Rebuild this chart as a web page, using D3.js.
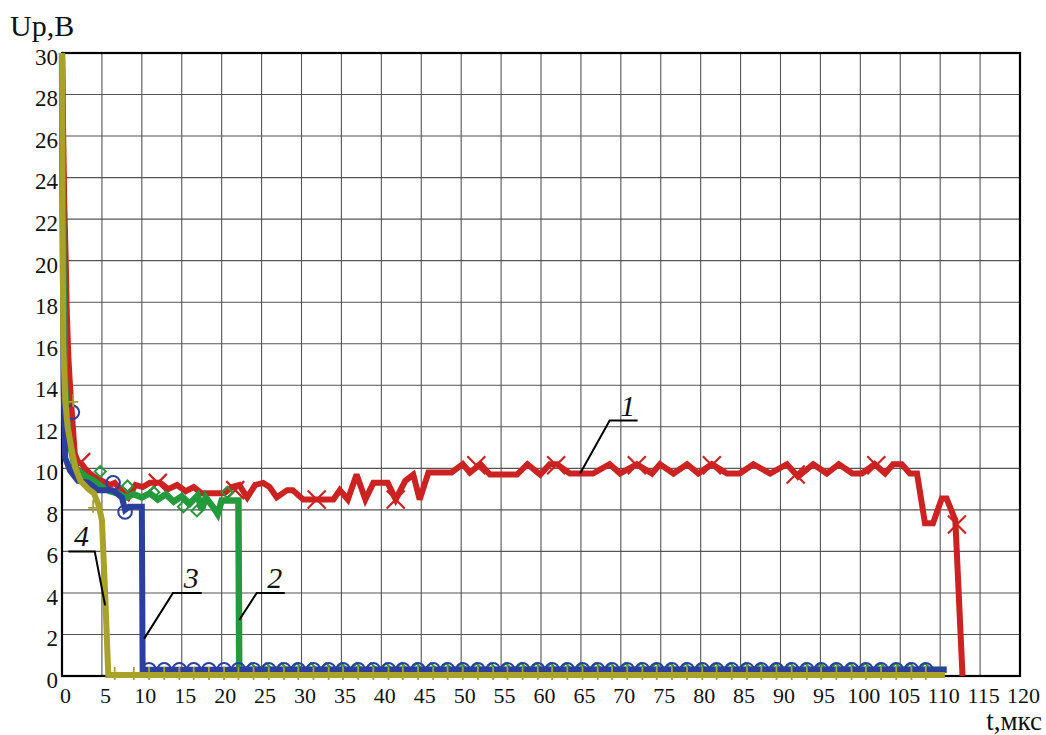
<!DOCTYPE html>
<html>
<head>
<meta charset="utf-8">
<script src="https://cdn.jsdelivr.net/npm/d3@7"></script>
<style>
  html, body { margin: 0; padding: 0; background: #fff; }
  svg { display: block; }
</style>
</head>
<body>
<svg id="chart" width="1046" height="735"></svg>
<script>
// Voltage Up (V) versus time t (µs) for four discharge modes.
const xTicks = [0,5,10,15,20,25,30,35,40,45,50,55,60,65,70,75,80,85,90,95,100,105,110,115,120];
const yTicks = [0,2,4,6,8,10,12,14,16,18,20,22,24,26,28,30];

// Curve 1 (red)
const t1 = [0,0.15,0.3,0.45,0.6,0.8,1,1.3,1.6,2,2.5,3,4,5,6,6.6,7.5,8.3,9.2,10.1,11,12.3,13.3,14.4,15.5,16.5,17.5,18.5,19.5,20.3,21.3,22.2,23.2,24.2,25.2,26,26.9,28.2,28.9,30.2,32,34,34.8,35.8,36.9,38,39,40.8,41.8,43,44,44.8,45.9,48.8,50.2,51.1,52.4,53.6,57,58.3,59.9,61.1,62,63.6,65.3,66.5,68.6,69.9,72,73.9,74.9,76.6,78.3,79.7,81.4,83.3,84.9,86.6,88.7,90.8,92.2,94.1,95.8,97.3,99,100.2,101.8,103.1,104.1,105.2,106.2,107.1,108.1,109.1,110.2,110.8,111.9,112.8];
const u1 = [30,26,22.5,20.3,17.5,15.3,14,12.3,10.7,10.3,10.2,9.9,9.6,9.4,9.2,9.3,8.9,8.6,9.2,9.1,9.3,9.3,9.0,9.2,8.9,9.1,8.8,8.8,8.8,8.8,9.1,9.2,8.6,9.2,9.3,9.1,8.6,8.95,8.95,8.5,8.5,8.5,8.95,8.5,9.7,8.5,9.3,9.3,8.5,9.4,9.7,8.5,9.8,9.8,10.2,9.8,10.2,9.7,9.7,10.2,9.7,10.2,10.2,9.75,9.75,9.75,10.2,9.75,10.2,9.75,10.2,9.75,10.2,9.75,10.2,9.75,9.75,10.2,9.75,10.2,9.6,10.2,9.75,10.2,9.75,9.75,10.2,9.75,10.2,10.2,9.75,9.75,7.35,7.35,8.55,8.55,7.5,0];
const m1x = [2.4,12,21.7,31.9,41.8,51.9,61.9,72,81.4,91.9,102,112.1];
const m1y = [10.3,9.3,8.95,8.5,8.5,10.15,10.15,10.15,10.15,9.7,10.15,7.3];

// Curve 2 (green)
const t2 = [0,0.1,0.2,0.35,0.6,1,1.5,2,3,4,5,6,7,8,9,10,11,12,13,14,15,16,17,17.5,18,19,19.5,20,21,22.1,22.2,110.8];
const u2 = [30,24,19,14.5,12.3,11.2,10.2,9.9,9.6,9.4,9.1,8.9,8.8,8.6,8.75,8.6,8.8,8.5,8.75,8.4,8.65,8.3,8.7,8.0,8.6,8.1,7.8,8.45,8.45,8.45,0.3,0.3];
const m2x = [4.8,8.2,11.5,15.2,16.9,20.7,23.7,25.6,27.5,29.4,31.2,33.1,35.0,36.9,38.7,40.6,42.5,44.4,46.2,48.1,50.0,51.9,53.7,55.6,57.5,59.4,61.2,63.1,65.0,66.9,68.7,70.6,72.5,74.4,76.2,78.1,80.0,81.9,83.7,85.6,87.5,89.4,91.2,93.1,95.0,96.9,98.7,100.6,102.5,104.4,106.2,108.1];
const m2y = [9.8,9.1,8.8,8.1,7.9,8.8,0.3,0.3,0.3,0.3,0.3,0.3,0.3,0.3,0.3,0.3,0.3,0.3,0.3,0.3,0.3,0.3,0.3,0.3,0.3,0.3,0.3,0.3,0.3,0.3,0.3,0.3,0.3,0.3,0.3,0.3,0.3,0.3,0.3,0.3,0.3,0.3,0.3,0.3,0.3,0.3,0.3,0.3,0.3,0.3,0.3,0.3];

// Curve 3 (blue)
const t3 = [0,0.1,0.2,0.4,1,2,3.3,4.5,6.3,7.5,7.9,8.4,9.1,10.0,10.1,110.8];
const u3 = [30,20,14,10.5,9.9,9.4,9.3,8.95,8.95,8.6,8.0,8.15,8.15,8.15,0.3,0.3];
const m3x = [1.3,6.4,7.9,10.9,12.8,14.7,16.5,18.4,20.3,22.1,24.0,25.9,27.8,29.6,31.5,33.4,35.2,37.1,39.0,40.9,42.7,44.6,46.5,48.3,50.2,52.1,54.0,55.8,57.7,59.6,61.4,63.3,65.2,67.1,68.9,70.8,72.7,74.5,76.4,78.3,80.2,82.0,83.9,85.8,87.6,89.5,91.4,93.3,95.1,97.0,98.9,100.7,102.6,104.5,106.4,108.2];
const m3y = [12.7,9.3,7.9,0.3,0.3,0.3,0.3,0.3,0.3,0.3,0.3,0.3,0.3,0.3,0.3,0.3,0.3,0.3,0.3,0.3,0.3,0.3,0.3,0.3,0.3,0.3,0.3,0.3,0.3,0.3,0.3,0.3,0.3,0.3,0.3,0.3,0.3,0.3,0.3,0.3,0.3,0.3,0.3,0.3,0.3,0.3,0.3,0.3,0.3,0.3,0.3,0.3,0.3,0.3,0.3,0.3];

// Curve 4 (olive)
const t4 = [0,0.08,0.16,0.4,0.7,1.2,1.7,2.3,3.3,4.0,4.6,5.0,5.4,5.8,110.6];
const u4 = [30,22,16,13.3,12,10.9,10.0,9.4,9.0,8.8,8.2,7.5,4.0,0.05,0.05];
const m4x = [1.4,3.9,6.6,9.0,10.9,12.8,14.7,16.5,18.4,20.3,22.1,24.0,25.9,27.8,29.6,31.5,33.4,35.2,37.1,39.0,40.9,42.7,44.6,46.5,48.3,50.2,52.1,54.0,55.8,57.7,59.6,61.4,63.3,65.2,67.1,68.9,70.8,72.7,74.5,76.4,78.3,80.2,82.0,83.9,85.8,87.6,89.5,91.4,93.3,95.1,97.0,98.9,100.7,102.6,104.5,106.4,108.2];
const m4y = [13.2,8.1,0.05,0.05,0.05,0.05,0.05,0.05,0.05,0.05,0.05,0.05,0.05,0.05,0.05,0.05,0.05,0.05,0.05,0.05,0.05,0.05,0.05,0.05,0.05,0.05,0.05,0.05,0.05,0.05,0.05,0.05,0.05,0.05,0.05,0.05,0.05,0.05,0.05,0.05,0.05,0.05,0.05,0.05,0.05,0.05,0.05,0.05,0.05,0.05,0.05,0.05,0.05,0.05,0.05,0.05,0.05];

// Curve numbers with leader lines: [x at line, y at line, x elbow, y elbow, x end]
const curveLabels = ["1","2","3","4"];
const labelAnchor = [[64.9,9.75,68.6,12.3,72.1],[22.2,2.7,24.4,4.0,27.9],[10.3,1.8,13.9,4.0,17.5],[5.4,3.4,4.1,6.0,0.8]];

const colors = { c1: "#cc2222", c2: "#239a3c", c3: "#2c3f9e", c4: "#a8a228" };

const svg = d3.select("#chart");
const W = 1046, H = 735;
svg.append("rect").attr("width", W).attr("height", H).attr("fill", "#fff");

const x = d3.scaleLinear().domain([0, 120]).range([62, 1020]);
const y = d3.scaleLinear().domain([0, 30]).range([676, 53]);

const FONT = "Liberation Serif, Times New Roman, DejaVu Serif, serif";

// grid
const grid = svg.append("g");
grid.selectAll("line.v").data(xTicks.slice(1, -1)).join("line")
  .attr("x1", d => x(d)).attr("x2", d => x(d))
  .attr("y1", y(0)).attr("y2", y(30))
  .attr("stroke", "#555").attr("stroke-width", 1.1);
grid.selectAll("line.h").data(yTicks.slice(1, -1)).join("line")
  .attr("x1", x(0)).attr("x2", x(120))
  .attr("y1", d => y(d)).attr("y2", d => y(d))
  .attr("stroke", "#555").attr("stroke-width", 1.1);

// frame
svg.append("rect")
  .attr("x", x(0)).attr("y", y(30))
  .attr("width", x(120) - x(0)).attr("height", y(0) - y(30))
  .attr("fill", "none").attr("stroke", "#000").attr("stroke-width", 2.2);

// axes
const xAxis = svg.append("g").attr("transform", `translate(3,${y(0)})`)
  .call(d3.axisBottom(x).tickValues(xTicks).tickSize(0).tickPadding(11).tickFormat(d3.format("d")));
const yAxis = svg.append("g").attr("transform", `translate(${x(0)},4)`)
  .call(d3.axisLeft(y).tickValues(yTicks).tickSize(0).tickPadding(4).tickFormat(d3.format("d")));
xAxis.selectAll("text").attr("font-size", 22);
yAxis.selectAll("text").attr("font-size", 23);
[xAxis, yAxis].forEach(g => {
  g.select(".domain").remove();
  g.selectAll("text").attr("font-family", FONT).attr("fill", "#111");
});

svg.append("text").attr("x", 10).attr("y", 36)
  .attr("font-family", FONT).attr("font-size", 30).attr("fill", "#111").text("Up,B");
svg.append("text").attr("x", 1042).attr("y", 729.5).attr("text-anchor", "end")
  .attr("font-family", FONT).attr("font-size", 27).attr("fill", "#111").text("t,мкс");

const line = d3.line().x(d => x(d[0])).y(d => y(d[1])).curve(d3.curveLinear);
const zip = (a, b) => a.map((v, i) => [v, b[i]]);

const plot = svg.append("g");

function drawCurve(t, u, color, w) {
  plot.append("path").datum(zip(t, u))
    .attr("d", line).attr("fill", "none")
    .attr("stroke", color).attr("stroke-width", w)
    .attr("stroke-linejoin", "miter").attr("stroke-miterlimit", 3);
}

// 1: red with crosses
drawCurve(t1, u1, colors.c1, 6);
plot.selectAll("path.m1").data(zip(m1x, m1y)).join("path")
  .attr("d", d => { const cx = x(d[0]), cy = y(d[1]), r = 9;
    return `M${cx-r},${cy-r}L${cx+r},${cy+r}M${cx-r},${cy+r}L${cx+r},${cy-r}`; })
  .attr("stroke", colors.c1).attr("stroke-width", 2.2).attr("fill", "none");

// 2: green with diamonds
drawCurve(t2, u2, colors.c2, 6.5);
plot.selectAll("path.m2").data(zip(m2x, m2y)).join("path")
  .attr("d", d => { const cx = x(d[0]), cy = y(d[1]) - 1, r = 5.5;
    return `M${cx},${cy-r}L${cx+r},${cy}L${cx},${cy+r}L${cx-r},${cy}Z`; })
  .attr("stroke", colors.c2).attr("stroke-width", 2).attr("fill", "none");

// 3: blue with circles
plot.selectAll("circle.m3").data(zip(m3x, m3y)).join("circle")
  .attr("cx", d => x(d[0])).attr("cy", d => y(d[1]))
  .attr("r", 6.8).attr("fill", "none")
  .attr("stroke", colors.c3).attr("stroke-width", 2);
drawCurve(t3, u3, colors.c3, 6);

// 4: olive with plus signs
plot.selectAll("path.m4").data(zip(m4x, m4y)).join("path")
  .attr("d", d => { const cx = x(d[0]), cy = y(d[1]), r = 5;
    return `M${cx-r},${cy}L${cx+r},${cy}M${cx},${cy-r-3}L${cx},${cy+r}`; })
  .attr("stroke", colors.c4).attr("stroke-width", 1.8).attr("fill", "none");
drawCurve(t4, u4, colors.c4, 6);

// curve numbers with leader lines
const lbl = svg.append("g");
labelAnchor.forEach((a, i) => {
  const [x0, y0, x1, y1, x2] = a;
  lbl.append("path")
    .attr("d", `M${x(x0)},${y(y0)}L${x(x1)},${y(y1)}L${x(x2)},${y(y1)}`)
    .attr("fill", "none").attr("stroke", "#000").attr("stroke-width", 2);
  lbl.append("text")
    .attr("x", (x(x1) + x(x2)) / 2 + (i === 3 ? 0 : 4))
    .attr("y", y(y1) - 5)
    .attr("text-anchor", "middle")
    .attr("font-family", FONT).attr("font-style", "italic").attr("font-size", 30)
    .attr("fill", "#111").text(curveLabels[i]);
});
</script>
</body>
</html>
